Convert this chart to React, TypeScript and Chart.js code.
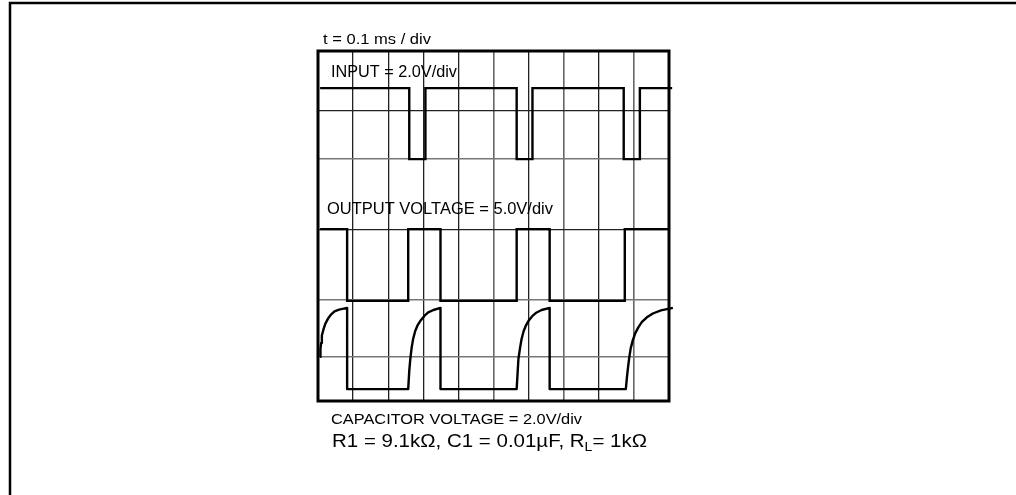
import React, { useEffect, useRef } from "react";
import { Chart, registerables } from "chart.js";

Chart.register(...registerables);

// ---- data (x in time divisions 0..10, y in vertical divisions 0..10 from the bottom) ----
const xGridTicks = [1, 2, 3, 4, 5, 6, 7, 8, 9];
const yGridTicks = [1.26, 2.89, 4.89, 6.91, 8.29];

const inputEdges = [0.06, 2.6, 3.06, 5.66, 6.11, 8.71, 9.17, 10.09];
const inputLevels = [8.94, 6.91, 8.94, 6.91, 8.94, 6.91, 8.94, 8.94];

const outputEdges = [0.06, 0.83, 2.57, 3.49, 5.66, 6.6, 8.74, 10.0];
const outputLevels = [4.91, 2.86, 4.91, 2.86, 4.91, 2.86, 4.91, 4.91];

const capX = [
  0.06, 0.07, 0.09, 0.11, 0.16, 0.21, 0.29, 0.37, 0.47, 0.6, 0.83,
  0.83, 2.57, 2.6, 2.63, 2.67, 2.71, 2.77, 2.84, 2.93, 3.03, 3.14, 3.29, 3.49,
  3.49, 5.66, 5.69, 5.71, 5.76, 5.8, 5.86, 5.93, 6.01, 6.11, 6.23, 6.37, 6.6,
  6.6, 8.77, 8.8, 8.83, 8.87, 8.91, 8.97, 9.04, 9.13, 9.23, 9.37, 9.54, 9.77, 10.11,
];
const capY = [
  1.26, 1.49, 1.66, 1.87, 2.06, 2.21, 2.36, 2.47, 2.56, 2.61, 2.66,
  0.34, 0.34, 0.86, 1.2, 1.54, 1.77, 2.0, 2.17, 2.31, 2.43, 2.53, 2.6, 2.66,
  0.34, 0.34, 0.86, 1.2, 1.54, 1.77, 2.0, 2.17, 2.31, 2.43, 2.53, 2.6, 2.66,
  0.34, 0.34, 0.66, 0.94, 1.26, 1.51, 1.74, 1.94, 2.11, 2.26, 2.39, 2.5, 2.59, 2.66,
];

const timeLabel = "t = 0.1 ms / div";
const inputLabel = "INPUT = 2.0V/div";
const outputLabel = "OUTPUT VOLTAGE = 5.0V/div";
const capLabel = "CAPACITOR VOLTAGE = 2.0V/div";
const partsMain = "R1 = 9.1kΩ, C1 = 0.01µF, R";
const partsSub = "L";
const partsTail = "= 1kΩ";

// ---- styling ----
const FONT = '"Liberation Sans", Arial, Helvetica, sans-serif';
const grayX = new Set([5, 7, 9]);
const grayY = new Set([1.26, 2.89, 6.91]);

type Part = { text: string; size: number; dy: number };

function drawScaled(ctx: CanvasRenderingContext2D, parts: Part[], x: number, y: number, targetW: number) {
  const widths = parts.map((p) => {
    ctx.font = `${p.size}px ${FONT}`;
    return ctx.measureText(p.text).width;
  });
  const total = widths.reduce((a, b) => a + b, 0);
  ctx.save();
  ctx.translate(x, y);
  ctx.scale(targetW / total, 1);
  ctx.fillStyle = "#000";
  ctx.textBaseline = "alphabetic";
  ctx.textAlign = "left";
  let cx = 0;
  parts.forEach((p, i) => {
    ctx.font = `${p.size}px ${FONT}`;
    ctx.fillText(p.text, cx, p.dy);
    cx += widths[i];
  });
  ctx.restore();
}

const scopePlugin = {
  id: "scopeDecor",
  beforeDraw(chart: any) {
    const ctx: CanvasRenderingContext2D = chart.ctx;
    ctx.save();
    ctx.strokeStyle = "#000";
    ctx.lineWidth = 2.5;
    ctx.beginPath();
    ctx.moveTo(10, 495);
    ctx.lineTo(10, 3);
    ctx.lineTo(1016, 3);
    ctx.stroke();
    ctx.restore();
  },
  afterDraw(chart: any) {
    const ctx: CanvasRenderingContext2D = chart.ctx;
    const a = chart.chartArea;
    ctx.save();
    ctx.strokeStyle = "#000";
    ctx.lineWidth = 3;
    ctx.strokeRect(a.left, a.top, a.right - a.left, a.bottom - a.top);
    ctx.restore();

    drawScaled(ctx, [{ text: timeLabel, size: 14.5, dy: 0 }], 323, 44, 108);
    drawScaled(ctx, [{ text: inputLabel, size: 16, dy: 0 }], 331, 77, 126);
    drawScaled(ctx, [{ text: outputLabel, size: 16.5, dy: 0 }], 327, 214, 226);
    drawScaled(ctx, [{ text: capLabel, size: 15, dy: 0 }], 331, 424, 251);
    drawScaled(
      ctx,
      [
        { text: partsMain, size: 19, dy: 0 },
        { text: partsSub, size: 13, dy: 4 },
        { text: partsTail, size: 19, dy: 0 },
      ],
      332,
      447,
      315
    );
  },
};

export default function App() {
  const ref = useRef<HTMLCanvasElement>(null);

  useEffect(() => {
    const lineBase = {
      borderColor: "#000",
      borderWidth: 2.4,
      pointRadius: 0,
      fill: false,
      tension: 0,
      clip: 6,
    };
    const chart = new Chart(ref.current as HTMLCanvasElement, {
      type: "line",
      data: {
        datasets: [
          {
            ...lineBase,
            label: "Input",
            stepped: true,
            data: inputEdges.map((x, i) => ({ x, y: inputLevels[i] })),
          },
          {
            ...lineBase,
            label: "Output voltage",
            stepped: true,
            data: outputEdges.map((x, i) => ({ x, y: outputLevels[i] })),
          },
          {
            ...lineBase,
            label: "Capacitor voltage",
            borderJoinStyle: "round",
            data: capX.map((x, i) => ({ x, y: capY[i] })),
          },
        ] as any,
      },
      options: {
        responsive: false,
        animation: false,
        devicePixelRatio: 1,
        layout: { padding: { left: 318, top: 51, right: 347, bottom: 94 } },
        plugins: {
          legend: { display: false },
          tooltip: { enabled: false },
          title: { display: false },
        },
        scales: {
          x: {
            type: "linear",
            min: 0,
            max: 10,
            afterBuildTicks: (s: any) => {
              s.ticks = xGridTicks.map((v) => ({ value: v }));
            },
            ticks: { display: false },
            border: { display: false },
            grid: {
              drawTicks: false,
              color: (c: any) => (grayX.has(c.tick?.value) ? "#666" : "#222"),
              lineWidth: (c: any) => (grayX.has(c.tick?.value) ? 1.6 : 1.3),
            },
          },
          y: {
            type: "linear",
            min: 0,
            max: 10,
            afterBuildTicks: (s: any) => {
              s.ticks = yGridTicks.map((v) => ({ value: v }));
            },
            ticks: { display: false },
            border: { display: false },
            grid: {
              drawTicks: false,
              color: (c: any) => (grayY.has(c.tick?.value) ? "#777" : "#222"),
              lineWidth: (c: any) => (grayY.has(c.tick?.value) ? 1.6 : 1.2),
            },
          },
        },
      } as any,
      plugins: [scopePlugin],
    });
    return () => chart.destroy();
  }, []);

  return (
    <div style={{ position: "fixed", left: 0, top: 0, width: 1016, height: 495, background: "#fff" }}>
      <canvas ref={ref} width={1016} height={495} style={{ display: "block", width: 1016, height: 495 }} />
    </div>
  );
}
